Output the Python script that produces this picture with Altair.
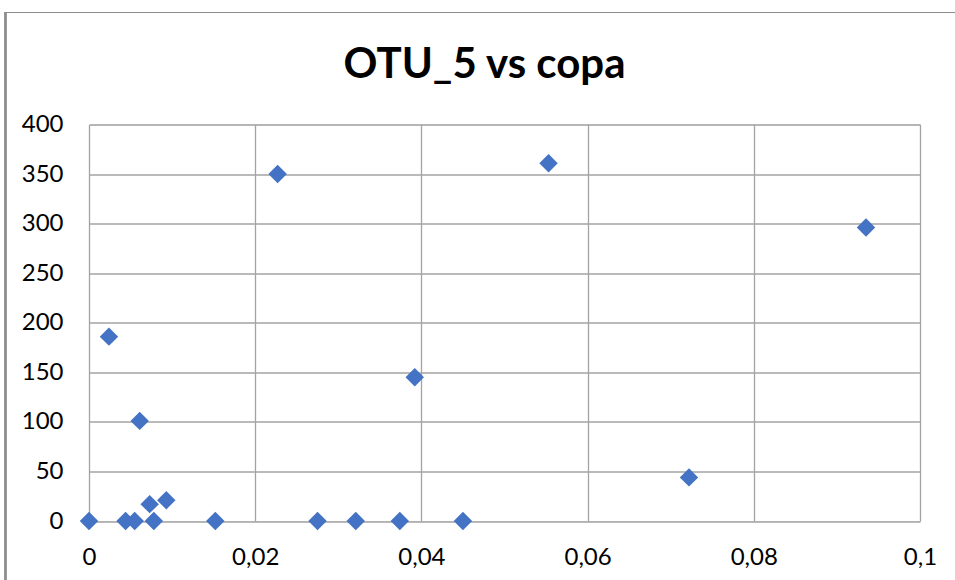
import altair as alt
import pandas as pd

# copa concentration (x) against OTU_5 count (y)
copa = [0.0, 0.0044, 0.0055, 0.0078, 0.0152, 0.0073, 0.0093, 0.0024, 0.0061,
        0.0227, 0.0553, 0.0392, 0.0275, 0.0321, 0.0374, 0.0450, 0.0722, 0.0935]
otu5 = [0, 0, 0, 0, 0, 17, 21, 186, 101,
        350, 361, 145, 0, 0, 0, 0, 44, 296]

x_ticks = [0, 0.02, 0.04, 0.06, 0.08, 0.1]
y_ticks = [0, 50, 100, 150, 200, 250, 300, 350, 400]
title_text = ["OTU_5 vs copa"]

df = pd.DataFrame({"copa": copa, "OTU_5": otu5})
title_df = pd.DataFrame({"t": title_text})

FONT = "Lato"
GRID = "#a3a3a3"
W, H = 831, 396.5

points = alt.Chart(df).mark_point(
    shape="diamond", filled=True, size=340, color="#4472C4", opacity=1
).encode(
    x=alt.X("copa:Q",
            scale=alt.Scale(domain=[0, 0.1], nice=False, zero=True),
            axis=alt.Axis(values=x_ticks, title=None, domain=False, ticks=False,
                          grid=True, gridColor=GRID, gridWidth=1.3,
                          labelExpr="replace(format(datum.value, '.2~f'), '.', ',')",
                          labelFont=FONT, labelFontSize=24, labelColor="#000000",
                          labelPadding=24, labelFlush=False)),
    y=alt.Y("OTU_5:Q",
            scale=alt.Scale(domain=[0, 400], nice=False),
            axis=alt.Axis(values=y_ticks, title=None, domain=False, ticks=False,
                          grid=True, gridColor=GRID, gridWidth=1.3,
                          labelFont=FONT, labelFontSize=24, labelColor="#000000",
                          labelPadding=26, labelFlush=False)),
)

# outer chart border (runs off the right and bottom edges)
frame = alt.Chart(df).mark_rect(fill=None, stroke="#8c8c8c", strokeWidth=1.2).encode(
    x=alt.value(-83.5), x2=alt.value(W + 60),
    y=alt.value(-112), y2=alt.value(H + 80),
)

# chart title, centred over the chart area
title = alt.Chart(title_df).mark_text(
    font=FONT, fontSize=42, fontWeight="bold", color="#000000",
    align="center", baseline="alphabetic"
).encode(text="t:N", x=alt.value(395.5), y=alt.value(-46.2))

chart = alt.layer(frame, points, title).properties(
    width=W, height=H,
    autosize=alt.AutoSizeParams(type="none"),
    padding={"left": 89, "top": 124.5, "right": 35, "bottom": 59},
).configure_view(stroke=None).configure(background="#ffffff")

chart.save("out.html", embed_options={"renderer": "svg", "actions": False})
